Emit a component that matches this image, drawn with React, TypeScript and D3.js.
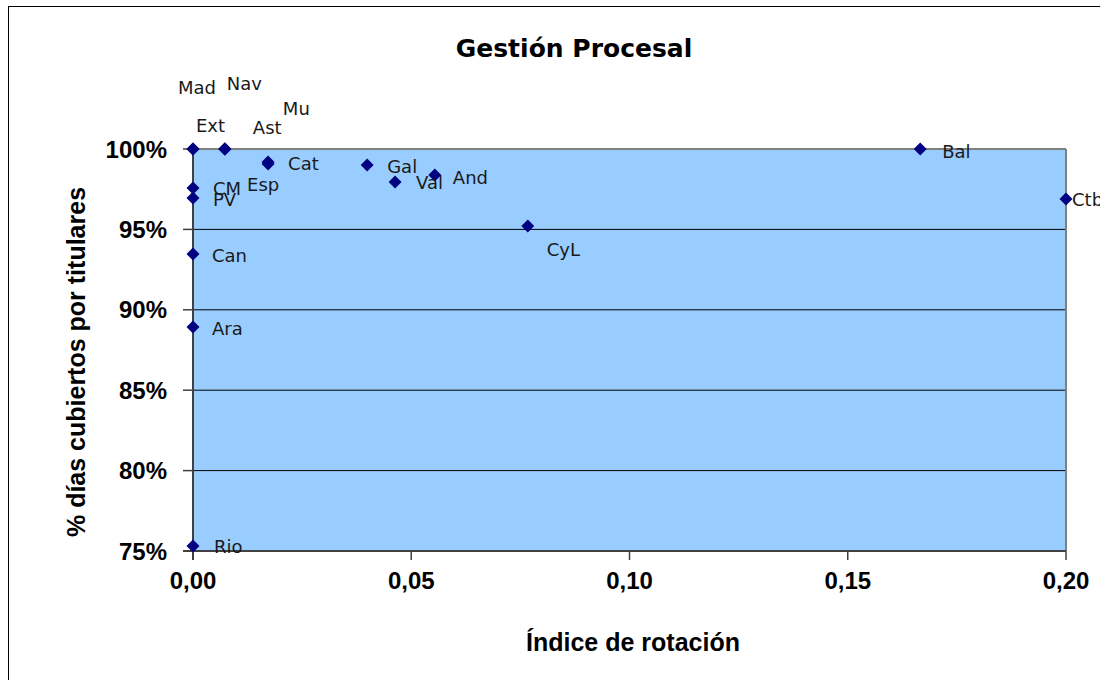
import React from "react";
import * as d3 from "d3";

const regions = ["Mad", "Nav", "Mu", "Ext", "Ast", "Cat", "Esp", "Gal", "Val", "And", "CyL", "Bal", "Ctb", "CM", "PV", "Can", "Ara", "Rio"];
const rotation = [0, 0.0073, 0.0073, 0, 0.0073, 0.0172, 0.0172, 0.0399, 0.0463, 0.0554, 0.0767, 0.1666, 0.2, 0, 0, 0, 0, 0];
const coverage = [1.0, 1.0, 1.0, 1.0, 1.0, 0.9919, 0.9907, 0.990, 0.9795, 0.9838, 0.9521, 1.0, 0.9689, 0.9757, 0.9695, 0.9347, 0.8893, 0.7531];

const xTicks = [0, 0.05, 0.1, 0.15, 0.2];
const yTicks = [0.75, 0.8, 0.85, 0.9, 0.95, 1.0];

const chartTitle = "Gestión Procesal";
const xTitle = "Índice de rotación";
const yTitle = "% días cubiertos por titulares";

// label placement (pixel offsets from each marker, as arranged in the original)
const labelOffsets: Record<string, [number, number]> = {
  Mad: [-15, -61], Nav: [2, -65], Mu: [58, -40], Ext: [3, -23], Ast: [28, -21],
  Cat: [20, 1], Esp: [-21, 21], Gal: [20, 1], Val: [21, 1], And: [18, 2],
  CyL: [19, 23], Bal: [22, 3], Ctb: [6, 1], CM: [20, 0], PV: [20, 1],
  Can: [19, 2], Ara: [19, 2], Rio: [21, 1],
};

const squareDiamond = {
  draw(ctx: any, size: number) {
    const r = Math.sqrt(size / 2);
    ctx.moveTo(0, -r);
    ctx.lineTo(r, 0);
    ctx.lineTo(0, r);
    ctx.lineTo(-r, 0);
    ctx.closePath();
  },
};

export default function App() {
  const W = 1100, H = 680;
  const left = 193, right = 1066, top = 149, bottom = 551;
  const x = d3.scaleLinear().domain([0, 0.2]).range([left, right]);
  const y = d3.scaleLinear().domain([0.75, 1]).range([bottom, top]);
  const fmtX = (v: number) => d3.format(".2f")(v).replace(".", ",");
  const fmtY = d3.format(".0%");
  const diamond = d3.symbol().type(squareDiamond as any).size(84)();

  const data = regions.map((r, i) => ({ r, xv: rotation[i], yv: coverage[i] }));

  return (
    <svg width={W} height={H} style={{ position: "absolute", left: 0, top: 0, background: "#fff" }}>
      <rect x={8.5} y={6.5} width={1200} height={800} fill="#fff" stroke="#000" strokeWidth={1} />
      <text x={574} y={48} textAnchor="middle" dominantBaseline="central" fontFamily="'DejaVu Sans', Verdana, sans-serif" fontWeight="bold" fontSize={25}>{chartTitle}</text>

      {/* plot area */}
      <rect x={left} y={top} width={right - left} height={bottom - top} fill="#99CCFF" />
      {yTicks.filter(t => t > 0.75 && t < 1).map(t => (
        <line key={t} x1={left} x2={right} y1={y(t)} y2={y(t)} stroke="#000" strokeWidth={1} />
      ))}
      <line x1={left} x2={right} y1={top} y2={top} stroke="#808080" strokeWidth={2} />
      <line x1={right} x2={right} y1={top} y2={bottom} stroke="#808080" strokeWidth={2} />
      <line x1={left} x2={left} y1={top} y2={bottom + 9} stroke="#404040" strokeWidth={2} />
      <line x1={left - 10} x2={right} y1={bottom} y2={bottom} stroke="#404040" strokeWidth={2} />

      {yTicks.map(t => (
        <g key={t}>
          <line x1={left - 10} x2={left} y1={y(t)} y2={y(t)} stroke="#404040" strokeWidth={1.5} />
          <text x={167} y={y(t)} dy="0.36em" textAnchor="end" fontFamily="'Liberation Sans', Arial, sans-serif" fontWeight="bold" fontSize={24}>{fmtY(t)}</text>
        </g>
      ))}
      {xTicks.map(t => (
        <g key={t}>
          <line x1={x(t)} x2={x(t)} y1={bottom} y2={bottom + 9} stroke="#404040" strokeWidth={1.5} />
          <text x={x(t)} y={580} dy="0.36em" textAnchor="middle" fontFamily="'Liberation Sans', Arial, sans-serif" fontWeight="bold" fontSize={24}>{fmtX(t)}</text>
        </g>
      ))}

      <text x={633} y={642} dy="0.36em" textAnchor="middle" fontFamily="'Liberation Sans', Arial, sans-serif" fontWeight="bold" fontSize={25}>{xTitle}</text>
      <text transform={`translate(76,362) rotate(-90)`} dy="0.36em" textAnchor="middle" fontFamily="'Liberation Sans', Arial, sans-serif" fontWeight="bold" fontSize={25}>{yTitle}</text>

      {data.map(d => (
        <path key={d.r} d={diamond} transform={`translate(${x(d.xv)},${y(d.yv)})`} fill="#000080" />
      ))}
      {data.map(d => {
        const [dx, dy] = labelOffsets[d.r] || [20, 0];
        return (
          <text key={d.r} x={x(d.xv) + dx} y={y(d.yv) + dy} dy="0.36em" fontFamily="'DejaVu Sans', Verdana, sans-serif" fontSize={18} fill="#1a1a1a">{d.r}</text>
        );
      })}
    </svg>
  );
}
